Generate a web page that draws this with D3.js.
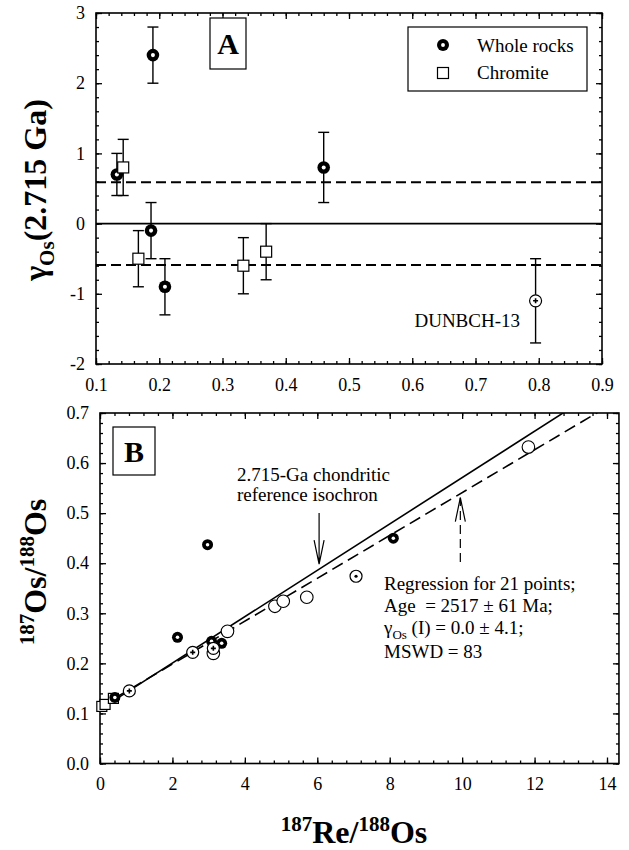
<!DOCTYPE html>
<html>
<head>
  <meta charset="utf-8">
  <title>gamma Os and Re-Os isochron</title>
  <script src="https://d3js.org/d3.v7.min.js"></script>
  <style>
    body { margin: 0; background: #fff; }
    text { font-family: "Liberation Serif", "Times New Roman", Times, serif; fill: #000; }
  </style>
</head>
<body>
<script>
// A: gamma Os (2.715 Ga)
var wrX   = [0.133, 0.190, 0.187, 0.209, 0.460];
var wrY   = [0.7, 2.4, -0.1, -0.9, 0.8];
var wrErr = [0.3, 0.4, 0.4, 0.4, 0.5];
var chrX   = [0.143, 0.167, 0.333, 0.369];
var chrY   = [0.8, -0.5, -0.6, -0.4];
var chrErr = [0.4, 0.4, 0.4, 0.4];
var dunX = [0.795], dunY = [-1.1], dunErr = [0.6];
var bandA = [0.59, -0.59];
var xTicksA = [0.1, 0.2, 0.3, 0.4, 0.5, 0.6, 0.7, 0.8, 0.9];
var yTicksA = [-2, -1, 0, 1, 2, 3];

// B: 187Os/188Os vs 187Re/188Os
var bFilledX = [0.41, 2.14, 2.97, 3.08, 3.36, 8.10];
var bFilledY = [0.132, 0.252, 0.437, 0.244, 0.240, 0.450];
var bPlusX = [0.81, 2.56, 3.13];
var bPlusY = [0.145, 0.222, 0.230];
var bDotX = [7.07], bDotY = [0.374];
var bOpenX = [3.13, 3.52, 4.83, 5.06, 5.71, 11.83];
var bOpenY = [0.220, 0.264, 0.314, 0.324, 0.332, 0.632];
var bSqX = [0.05, 0.14, 0.37];
var bSqY = [0.114, 0.118, 0.130];
var isoRef = { b: 0.108, m: 0.0463 };   // 2.715-Ga chondritic
var isoReg = { b: 0.113, m: 0.0428 };   // regression
var xTicksB = [0, 2, 4, 6, 8, 10, 12, 14];
var yTicksB = [0, 0.1, 0.2, 0.3, 0.4, 0.5, 0.6, 0.7];

var W = 629, H = 850;
var svg = d3.select("body").append("svg").attr("width", W).attr("height", H);

// scales
var xA = d3.scaleLinear().domain([0.1, 0.9]).range([96, 602]);
var yA = d3.scaleLinear().domain([-2, 3]).range([364, 13]);
var xB = d3.scaleLinear().domain([0, 14]).range([100, 607]);
var yB = d3.scaleLinear().domain([0, 0.7]).range([763.5, 413]);
var xBmax = 14.33;

// hyphen instead of unicode minus
function fmt(s) { var f = d3.format(s); return d => f(d).replace("\u2212", "-"); }

function frame(x, y, x0, x1, y0, y1, xt, yt, xm, ym, xfmt, yfmt) {
  var g = svg.append("g");
  // minor ticks on all sides
  g.append("g").attr("transform", "translate(0," + y(y0) + ")")
    .call(d3.axisBottom(x).tickValues(xm).tickFormat("").tickSize(-3));
  g.append("g").attr("transform", "translate(0," + y(y1) + ")")
    .call(d3.axisTop(x).tickValues(xm).tickFormat("").tickSize(-3));
  g.append("g").attr("transform", "translate(" + x(x0) + ",0)")
    .call(d3.axisLeft(y).tickValues(ym).tickFormat("").tickSize(-3));
  g.append("g").attr("transform", "translate(" + x(x1) + ",0)")
    .call(d3.axisRight(y).tickValues(ym).tickFormat("").tickSize(-3));
  // major ticks
  g.append("g").attr("class", "lab").attr("transform", "translate(0," + y(y0) + ")")
    .call(d3.axisBottom(x).tickValues(xt).tickFormat(xfmt).tickSize(-6).tickPadding(14));
  g.append("g").attr("transform", "translate(0," + y(y1) + ")")
    .call(d3.axisTop(x).tickValues(xt).tickFormat("").tickSize(-6));
  g.append("g").attr("class", "lab").attr("transform", "translate(" + x(x0) + ",0)")
    .call(d3.axisLeft(y).tickValues(yt).tickFormat(yfmt).tickSize(-6).tickPadding(11));
  g.append("g").attr("transform", "translate(" + x(x1) + ",0)")
    .call(d3.axisRight(y).tickValues(yt).tickFormat("").tickSize(-6));
  g.selectAll(".domain").remove();
  g.selectAll("line").attr("stroke", "#000").attr("stroke-width", 1.3);
  g.selectAll(".lab").attr("font-family", null).attr("font-size", 18);
  g.append("rect").attr("x", x(x0)).attr("y", y(y1))
    .attr("width", x(x1) - x(x0)).attr("height", y(y0) - y(y1))
    .attr("fill", "none").attr("stroke", "#000").attr("stroke-width", 1.6);
}

frame(xA, yA, 0.1, 0.9, -2, 3, xTicksA, yTicksA,
  d3.range(0.1, 0.9001, 0.02), d3.range(-2, 3.001, 0.2), fmt(".1f"), fmt("d"));
frame(xB, yB, 0, xBmax, 0, 0.7, xTicksB, yTicksB,
  d3.range(0, 14.01, 0.4), d3.range(0, 0.7001, 0.02), fmt("d"), fmt(".1f"));

// ---------- panel A ----------
var gA = svg.append("g");
gA.append("line").attr("x1", xA(0.1)).attr("x2", xA(0.9)).attr("y1", yA(0)).attr("y2", yA(0))
  .attr("stroke", "#000").attr("stroke-width", 1.6);
gA.selectAll(".band").data(bandA).enter().append("line")
  .attr("x1", xA(0.1)).attr("x2", xA(0.9)).attr("y1", d => yA(d)).attr("y2", d => yA(d))
  .attr("stroke", "#000").attr("stroke-width", 2).attr("stroke-dasharray", "10,5");

function errBars(g, xs, ys, es) {
  xs.forEach(function(v, i) {
    var cx = xA(v), t = yA(ys[i] + es[i]), b = yA(ys[i] - es[i]);
    g.append("line").attr("x1", cx).attr("x2", cx).attr("y1", t).attr("y2", b);
    g.append("line").attr("x1", cx - 5.5).attr("x2", cx + 5.5).attr("y1", t).attr("y2", t);
    g.append("line").attr("x1", cx - 5.5).attr("x2", cx + 5.5).attr("y1", b).attr("y2", b);
  });
  g.selectAll("line").attr("stroke", "#000").attr("stroke-width", 1.4);
}
errBars(gA.append("g"), wrX, wrY, wrErr);
errBars(gA.append("g"), chrX, chrY, chrErr);
errBars(gA.append("g"), dunX, dunY, dunErr);

function filledSym(g, cx, cy, r) {
  g.append("circle").attr("cx", cx).attr("cy", cy).attr("r", r).attr("fill", "#000");
  g.append("circle").attr("cx", cx).attr("cy", cy).attr("r", r * 0.32).attr("fill", "#fff");
}
function plusSym(g, cx, cy, r) {
  g.append("circle").attr("cx", cx).attr("cy", cy).attr("r", r)
    .attr("fill", "#fff").attr("stroke", "#000").attr("stroke-width", 1.2);
  g.append("path").attr("d", "M" + (cx - 2.5) + "," + cy + "h5M" + cx + "," + (cy - 2.5) + "v5")
    .attr("stroke", "#000").attr("stroke-width", 1.6);
}
function squareSym(g, cx, cy, s) {
  g.append("rect").attr("x", cx - s / 2).attr("y", cy - s / 2).attr("width", s).attr("height", s)
    .attr("fill", "#fff").attr("stroke", "#000").attr("stroke-width", 1.2);
}

wrX.forEach((v, i) => filledSym(gA, xA(v), yA(wrY[i]), 6.3));
chrX.forEach((v, i) => squareSym(gA, xA(v), yA(chrY[i]), 11));
dunX.forEach((v, i) => plusSym(gA, xA(v), yA(dunY[i]), 6));

gA.append("text").attr("x", 520).attr("y", 327).attr("text-anchor", "end")
  .attr("font-size", 19).text("DUNBCH-13");

// box A and legend
gA.append("rect").attr("x", 210).attr("y", 18).attr("width", 36).attr("height", 51)
  .attr("fill", "#fff").attr("stroke", "#000").attr("stroke-width", 1.2);
gA.append("text").attr("x", 228).attr("y", 54).attr("text-anchor", "middle")
  .attr("font-size", 30).attr("font-weight", "bold").text("A");
gA.append("rect").attr("x", 408).attr("y", 27).attr("width", 179).attr("height", 64)
  .attr("fill", "#fff").attr("stroke", "#000").attr("stroke-width", 1.2);
filledSym(gA, 443, 45, 6);
squareSym(gA, 443, 73, 11);
gA.append("text").attr("x", 477).attr("y", 51.5).attr("font-size", 19).text("Whole rocks");
gA.append("text").attr("x", 477).attr("y", 79).attr("font-size", 19).text("Chromite");

// y label A
var lA = svg.append("text").attr("transform", "translate(46,190) rotate(-90)")
  .attr("text-anchor", "middle").attr("font-size", 32).attr("font-weight", "bold");
lA.append("tspan").text("γ");
lA.append("tspan").attr("font-size", 21).attr("dy", 8).text("Os");
lA.append("tspan").attr("dy", -8).text("(2.715 Ga)");

// ---------- panel B ----------
var gB = svg.append("g");
svg.append("clipPath").attr("id", "clipB").append("rect")
  .attr("x", xB(0)).attr("y", yB(0.7)).attr("width", xB(xBmax) - xB(0)).attr("height", yB(0) - yB(0.7));
var line = d3.line().x(d => xB(d[0])).y(d => yB(d[1]));
var lines = gB.append("g").attr("clip-path", "url(#clipB)");
lines.append("path").attr("d", line([[0, isoRef.b], [xBmax, isoRef.b + isoRef.m * xBmax]]))
  .attr("fill", "none").attr("stroke", "#000").attr("stroke-width", 1.6);
lines.append("path").attr("d", line([[0, isoReg.b], [xBmax, isoReg.b + isoReg.m * xBmax]]))
  .attr("fill", "none").attr("stroke", "#000").attr("stroke-width", 1.6).attr("stroke-dasharray", "12,6");

bSqX.forEach((v, i) => squareSym(gB, xB(v), yB(bSqY[i]), 10));
bOpenX.forEach(function(v, i) {
  gB.append("circle").attr("cx", xB(v)).attr("cy", yB(bOpenY[i])).attr("r", 6.3)
    .attr("fill", "#fff").attr("stroke", "#000").attr("stroke-width", 1.1);
});
bFilledX.forEach((v, i) => filledSym(gB, xB(v), yB(bFilledY[i]), 5.5));
bPlusX.forEach((v, i) => plusSym(gB, xB(v), yB(bPlusY[i]), 6));
bDotX.forEach(function(v, i) {
  gB.append("circle").attr("cx", xB(v)).attr("cy", yB(bDotY[i])).attr("r", 6)
    .attr("fill", "#fff").attr("stroke", "#000").attr("stroke-width", 1.2);
  gB.append("circle").attr("cx", xB(v)).attr("cy", yB(bDotY[i])).attr("r", 1.6).attr("fill", "#000");
});

// arrows
var ax1 = 6.05, tip1 = yB(isoRef.b + isoRef.m * ax1) - 5;
gB.append("path").attr("d", "M" + xB(ax1) + ",513V" + tip1 +
  "M" + (xB(ax1) - 5) + "," + (tip1 - 24) + "L" + xB(ax1) + "," + tip1 + "L" + (xB(ax1) + 5) + "," + (tip1 - 24))
  .attr("fill", "none").attr("stroke", "#000").attr("stroke-width", 1.2);
var ax2 = 9.95, tip2 = yB(isoReg.b + isoReg.m * ax2) + 4;
gB.append("path").attr("d", "M" + xB(ax2) + ",562V" + tip2)
  .attr("fill", "none").attr("stroke", "#000").attr("stroke-width", 1.2).attr("stroke-dasharray", "9,5");
gB.append("path").attr("d", "M" + (xB(ax2) - 5) + "," + (tip2 + 24) + "L" + xB(ax2) + "," + tip2 + "L" + (xB(ax2) + 5) + "," + (tip2 + 24))
  .attr("fill", "none").attr("stroke", "#000").attr("stroke-width", 1.2);

gB.append("text").attr("x", 237).attr("y", 481).attr("font-size", 19).text("2.715-Ga chondritic");
gB.append("text").attr("x", 237).attr("y", 501).attr("font-size", 19).text("reference isochron");

var reg = gB.append("g").attr("font-size", 19);
reg.append("text").attr("x", 384).attr("y", 590).text("Regression for 21 points;");
reg.append("text").attr("x", 384).attr("y", 612).attr("xml:space", "preserve").text("Age  = 2517 ± 61 Ma;");
var g3 = reg.append("text").attr("x", 384).attr("y", 634);
g3.append("tspan").text("γ");
g3.append("tspan").attr("font-size", 13).attr("dy", 5).text("Os");
g3.append("tspan").attr("dy", -5).text(" (I) = 0.0 ± 4.1;");
reg.append("text").attr("x", 384).attr("y", 658).text("MSWD = 83");

// box B
gB.append("rect").attr("x", 113).attr("y", 427).attr("width", 42).attr("height", 48)
  .attr("fill", "#fff").attr("stroke", "#000").attr("stroke-width", 1.2);
gB.append("text").attr("x", 134).attr("y", 462).attr("text-anchor", "middle")
  .attr("font-size", 30).attr("font-weight", "bold").text("B");

// axis labels B
var lx = svg.append("text").attr("x", 354).attr("y", 843).attr("text-anchor", "middle")
  .attr("font-size", 32).attr("font-weight", "bold");
lx.append("tspan").attr("font-size", 21).attr("dy", -12).text("187");
lx.append("tspan").attr("dy", 12).text("Re/");
lx.append("tspan").attr("font-size", 21).attr("dy", -12).text("188");
lx.append("tspan").attr("dy", 12).text("Os");

var ly = svg.append("text").attr("transform", "translate(46,572) rotate(-90)")
  .attr("text-anchor", "middle").attr("font-size", 32).attr("font-weight", "bold");
ly.append("tspan").attr("font-size", 21).attr("dy", -12).text("187");
ly.append("tspan").attr("dy", 12).text("Os/");
ly.append("tspan").attr("font-size", 21).attr("dy", -12).text("188");
ly.append("tspan").attr("dy", 12).text("Os");
</script>
</body>
</html>
